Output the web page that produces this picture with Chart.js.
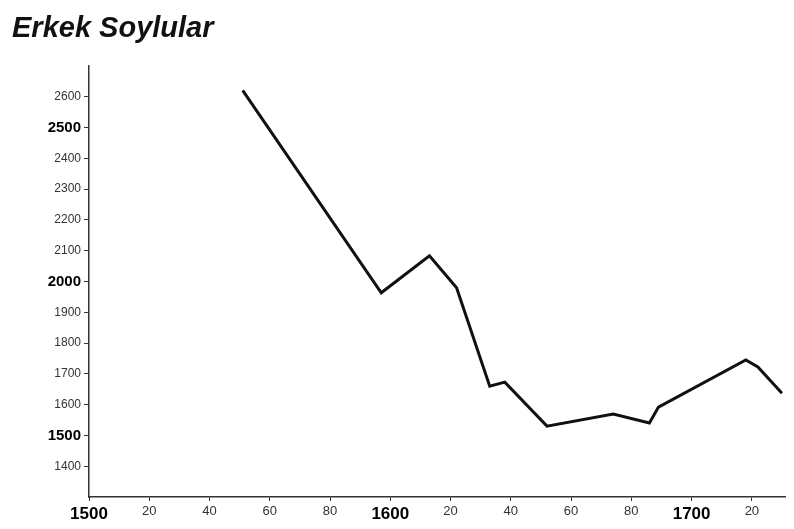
<!DOCTYPE html>
<html>
<head>
<meta charset="utf-8">
<script src="https://cdn.jsdelivr.net/npm/chart.js@4/dist/chart.umd.min.js"></script>
<style>
  body { margin: 0; background: #fff; }
  canvas { display: block; }
</style>
</head>
<body>
<canvas id="myChart" width="794" height="529"></canvas>
<script>
// yil / deger
let years = [1551, 1597, 1613, 1622, 1633, 1638, 1652, 1674, 1686, 1689, 1718, 1722, 1730];
let values = [2620, 1963, 2083, 1979, 1660, 1673, 1530, 1569, 1540, 1592, 1745, 1722, 1637];
let xTicks = [1500, 1520, 1540, 1560, 1580, 1600, 1620, 1640, 1660, 1680, 1700, 1720];
let yTicks = [1400, 1500, 1600, 1700, 1800, 1900, 2000, 2100, 2200, 2300, 2400, 2500, 2600];
let titleText = 'Erkek Soylular';

let points = years.map(function (y, i) { return { x: y, y: values[i] }; });

let chart = document.getElementById('myChart');
let config = {
  type: 'line',
  data: {
    datasets: [{
      data: points,
      borderColor: '#111',
      borderWidth: 3,
      pointRadius: 0,
      tension: 0,
      fill: false
    }]
  },
  options: {
    responsive: false,
    animation: false,
    layout: { padding: { left: 12, right: 9, top: 8, bottom: 0 } },
    plugins: {
      legend: { display: false },
      tooltip: { enabled: false },
      title: {
        display: true,
        text: titleText,
        align: 'start',
        color: '#111',
        font: { family: 'Liberation Sans', size: 29, weight: 'bold', style: 'italic' },
        padding: { top: 4, bottom: 19 }
      }
    },
    scales: {
      x: {
        type: 'linear',
        min: 1500,
        max: 1731,
        afterBuildTicks: function (scale) {
          scale.ticks = xTicks.map(function (v) { return { value: v }; });
        },
        afterFit: function (scale) { scale.height = 32; },
        border: { display: true, color: '#333', width: 1.5, dash: [4, 2] },
        grid: { drawOnChartArea: false, drawTicks: true, tickLength: 4, color: '#333' },
        ticks: {
          maxRotation: 0,
          autoSkip: false,
          padding: 3,
          color: function (ctx) { return ctx.tick.value % 100 === 0 ? '#000' : '#333'; },
          font: function (ctx) {
            let big = ctx.tick && ctx.tick.value % 100 === 0;
            return { family: 'Liberation Sans', size: big ? 17 : 13, weight: big ? 'bold' : 'normal' };
          },
          callback: function (value) {
            return value % 100 === 0 ? String(value) : String(value % 100);
          }
        }
      },
      y: {
        min: 1300,
        max: 2700,
        afterBuildTicks: function (scale) {
          scale.ticks = yTicks.map(function (v) { return { value: v }; });
        },
        afterFit: function (scale) { scale.width = 77; },
        border: { display: true, color: '#333', width: 1.5, dash: [4, 2] },
        grid: { drawOnChartArea: false, drawTicks: true, tickLength: 5, color: '#333' },
        ticks: {
          padding: 3,
          color: function (ctx) { return ctx.tick.value % 500 === 0 ? '#000' : '#333'; },
          font: function (ctx) {
            let big = ctx.tick && ctx.tick.value % 500 === 0;
            return { family: 'Liberation Sans', size: big ? 15 : 12, weight: big ? 'bold' : 'normal' };
          },
          callback: function (value) { return String(value); }
        }
      }
    }
  }
};
let lineChart = new Chart(chart, config);
</script>
</body>
</html>
